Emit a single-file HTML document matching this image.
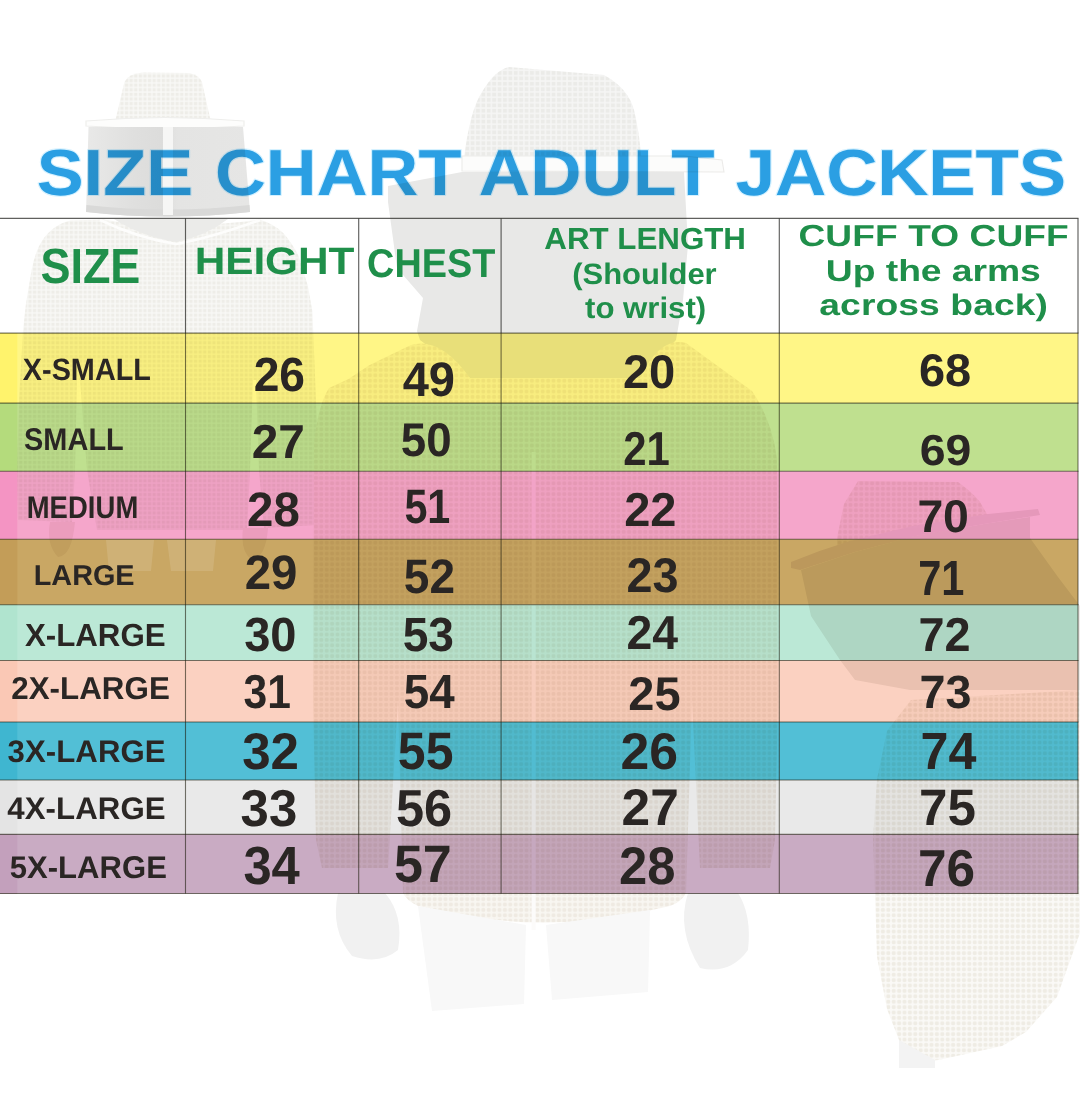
<!DOCTYPE html>
<html lang="en"><head><meta charset="utf-8"><title>Size Chart Adult Jackets</title>
<style>
html,body{margin:0;padding:0;background:#fff;}
body{width:1080px;height:1110px;overflow:hidden;font-family:"Liberation Sans", sans-serif;}
svg{display:block;}
text{font-family:"Liberation Sans", sans-serif;font-weight:700;white-space:pre;text-rendering:geometricPrecision;}
.t{fill:#2b9fe3;}
.h{fill:#1f8f4a;}
.d{fill:#2a2624;}
</style></head><body>
<svg width="1080" height="1110" viewBox="0 0 1080 1110">
<defs>
<linearGradient id="tg" x1="0" y1="0" x2="1" y2="0"><stop offset="0" stop-color="#1f8ed0"/><stop offset="1" stop-color="#2c9fe1"/></linearGradient>
</defs>
<rect width="1080" height="1110" fill="#fff"/>
<rect x="0" y="333.1" width="1078.0" height="70.00" fill="#fff686"/>
<rect x="0" y="403.1" width="1078.0" height="68.20" fill="#bfe08f"/>
<rect x="0" y="471.3" width="1078.0" height="67.90" fill="#f5a6cb"/>
<rect x="0" y="539.2" width="1078.0" height="65.60" fill="#c9a764"/>
<rect x="0" y="604.8" width="1078.0" height="55.70" fill="#bbe8d6"/>
<rect x="0" y="660.5" width="1078.0" height="61.50" fill="#fbd1c1"/>
<rect x="0" y="722.0" width="1078.0" height="58.00" fill="#52bfd6"/>
<rect x="0" y="780.0" width="1078.0" height="54.40" fill="#e9e9e9"/>
<rect x="0" y="834.4" width="1078.0" height="59.10" fill="#c9abc3"/>
<rect x="0" y="333.1" width="17.3" height="70.00" fill="#fff36c"/>
<rect x="0" y="403.1" width="17.3" height="68.20" fill="#b4db7c"/>
<rect x="0" y="471.3" width="17.3" height="67.90" fill="#f494c3"/>
<rect x="0" y="539.2" width="17.3" height="65.60" fill="#c39d58"/>
<rect x="0" y="604.8" width="17.3" height="55.70" fill="#b0e4cf"/>
<rect x="0" y="660.5" width="17.3" height="61.50" fill="#fac8b5"/>
<rect x="0" y="722.0" width="17.3" height="58.00" fill="#3fb6d0"/>
<rect x="0" y="780.0" width="17.3" height="54.40" fill="#e4e4e4"/>
<rect x="0" y="834.4" width="17.3" height="59.10" fill="#c3a0bc"/>
<g stroke="#d4f1ff" stroke-width="22" stroke-linejoin="round" paint-order="stroke"><text class="t" transform="translate(36.66 195.00) scale(0.10753 0.1)" font-size="654.6">SIZE</text>
<text class="t" transform="translate(214.90 195.00) scale(0.10768 0.1)" font-size="654.6">CHART</text>
<text class="t" transform="translate(478.76 195.00) scale(0.10873 0.1)" font-size="654.6">ADULT</text>
<text class="t" transform="translate(735.75 195.00) scale(0.10806 0.1)" font-size="654.6">JACKETS</text></g>
<defs>
<pattern id="mesh" width="4.6" height="4.6" patternUnits="userSpaceOnUse"><rect width="4.6" height="4.6" fill="#f9f9f7"/><rect x="0.7" y="0.7" width="3.3" height="3.3" fill="#eeede8"/></pattern>
<pattern id="mesh2" width="5.4" height="5.4" patternUnits="userSpaceOnUse"><rect width="5.4" height="5.4" fill="#f8f6f1"/><circle cx="2.7" cy="2.7" r="2.1" fill="#efeae2"/></pattern>
<pattern id="mesh3" width="5.4" height="5.4" patternUnits="userSpaceOnUse"><rect width="5.4" height="5.4" fill="#f6f6f5"/><rect x="0.8" y="0.8" width="3.9" height="3.9" fill="#ebebe8"/></pattern>
<pattern id="mesh4" width="5.4" height="5.4" patternUnits="userSpaceOnUse"><rect width="5.4" height="5.4" fill="#faf9f6"/><circle cx="2.7" cy="2.7" r="2.1" fill="#efece4"/></pattern>
<filter id="soft" x="-5%" y="-5%" width="110%" height="110%"><feGaussianBlur stdDeviation="0.7"/></filter>
<clipPath id="photo"><rect x="17" y="40" width="1063" height="1070"/></clipPath>
<linearGradient id="veilg" x1="0" y1="0" x2="1" y2="0"><stop offset="0" stop-color="#e9e9e8"/><stop offset="0.3" stop-color="#dfdfde"/><stop offset="0.46" stop-color="#dcdcdb"/><stop offset="0.56" stop-color="#e4e4e3"/><stop offset="1" stop-color="#e6e6e5"/></linearGradient>
</defs>

<g clip-path="url(#photo)" style="mix-blend-mode:multiply">
<g filter="url(#soft)">
<!-- ===== LEFT FIGURE ===== -->
<g id="figL">
<path d="M115.5 120 L124.4 82 Q128 74 143 72.6 L189 73 Q199 75 202 82 L210.5 120 Z" fill="url(#mesh)"/>
<path d="M86 121 Q165 114 244 121 L244 126 Q165 131 86 126 Z" fill="#fdfdfc" stroke="#eeeeec" stroke-width="1.2"/>
<path d="M88.5 127 L243 127 L250 212 Q168 221 86 212 Z" fill="url(#veilg)"/>
<path d="M86.5 205 Q168 214 249.5 205 L250 212 Q168 221 86 212 Z" fill="#d9d9d8"/>
<rect x="163" y="127" width="10" height="88" fill="#f6f6f5"/>
<path d="M103.7 219.6 Q168 232 259.6 219.6 Q274 224 283.7 233.5 Q292 243 298.5 255.7 L307.8 285.4 L312.4 311.3 L316 400 L318.5 470 L317 525 L264 528 L259 470 L256 380 L253 380 L250 470 L247 530 L97 530 L87 470 L80 380 L77 380 L75 470 L72 522 L18 520 L17 470 L19 400 L23.1 329.8 L25.9 303.9 L31.5 270.6 Q34 257 38.9 246.5 Q44 236 51.9 229.8 Q60 223 70.4 220.6 Z" fill="url(#mesh)"/>
<path d="M114 219 Q140 236 176 242 Q206 236 228 219 Z" fill="#ebebe9"/>
<path d="M100 220 Q138 238 176 244 Q210 238 260 220" fill="none" stroke="#fdfdfc" stroke-width="2.5"/>
<path d="M50 522 Q46 545 58 557 Q72 556 75 522 Z" fill="#f5f1ee"/>
<path d="M243 528 Q240 552 252 560 Q266 557 268 528 Z" fill="#f5f1ee"/>
</g>
<!-- ===== CENTER FIGURE ===== -->
<g id="figC">
<path d="M464 158 Q470 110 482 92 Q495 70 509 67 L604 75 Q628 88 634 110 Q640 135 641 158 Z" fill="url(#mesh3)"/>
<path d="M462 156 L684 156 L722 160 L724 172 L462 171 Z" fill="#fcfcfb" stroke="#ecebe9" stroke-width="1.1"/>
<path d="M388 186 L462 172 L684 172 L688 245 L683 300 L676 340 L640 378 L470 378 L420 340 L417 331 L423 298 L397 268 L388 202 Z" fill="#e8e8e7"/>
<path d="M411 345 Q440 336 470 378 L640 378 Q660 336 686 343 L752 391 Q772 420 777 459 L778 700 L775 840 L770 868 L700 868 L692 700 L686 893 Q680 905 661 908 Q540 938 418 906 Q406 900 403 893 L398 700 L388 868 L322 868 L316 840 L313 700 L314 444 Q318 405 329 388 L348.5 379 L368.8 365.5 L385 357.4 Z" fill="url(#mesh2)"/>
<rect x="531.6" y="452" width="4" height="478" fill="#fcfbfa"/>
<path d="M338 893 Q330 930 352 956 Q380 965 398 950 Q404 915 385 893 Z" fill="#f1f1f1"/>
<path d="M688 893 Q676 930 700 968 Q730 975 748 950 Q752 915 738 893 Z" fill="#f1f1f1"/>
<path d="M418 906 L526 925 L524 1004 L432 1011 Z" fill="#f8f8f8"/>
<path d="M546 925 L650 910 L648 992 L552 1000 Z" fill="#f8f8f8"/>
</g>
<!-- ===== RIGHT FIGURE ===== -->
<g id="figR">
<path d="M858 481 L958 482 Q972 492 980 502 L988 516 L988 522 L837 554 L837 538 L844 504 Z" fill="url(#mesh2)"/>
<path d="M791 562 Q820 550 850 541 L913 526 L988 514 L1038 509 L1040 515 L990 523 L915 536 L855 552 L800 570 L791 568 Z" fill="#efe9ea"/>
<path d="M801 570 L855 552 L915 536 L990 523 L1030 517 L1030 538 L1058 577 L1080 606 L1080 690 L910 690 L855 680 L840 660 L811 616 Z" fill="#eeece9"/>
<path d="M911 700 L1080 690 L1080 933 L1057 997 L1026 1032 L1002 1046 L938.5 1060 L899 1064 L899 1040 L887 1009 L877 957 L875 894 L873 838 L877 779 L887 731 Z" fill="url(#mesh4)"/>
<path d="M899 1040 L935 1060 L935 1068 L899 1068 Z" fill="#f3f3f3"/>
</g>
</g>
</g>

<path d="M106 540 L154 540 L151 571 L109 571 Z M167 540 L216 540 L213 571 L171 571 Z" fill="#fff" fill-opacity="0.12"/>

<g stroke="#222220" stroke-opacity="0.72" stroke-width="1.15"><line x1="0" y1="218.4" x2="1078.5" y2="218.4"/>
<line x1="185.5" y1="218.4" x2="185.5" y2="333.1"/>
<line x1="358.7" y1="218.4" x2="358.7" y2="333.1"/>
<line x1="501.1" y1="218.4" x2="501.1" y2="333.1"/>
<line x1="779.3" y1="218.4" x2="779.3" y2="333.1"/>
<line x1="1078.0" y1="218.4" x2="1078.0" y2="333.1"/></g>
<g stroke="#1c1a0c" stroke-opacity="0.6" stroke-width="1.1"><line x1="185.5" y1="333.1" x2="185.5" y2="893.5"/>
<line x1="358.7" y1="333.1" x2="358.7" y2="893.5"/>
<line x1="501.1" y1="333.1" x2="501.1" y2="893.5"/>
<line x1="779.3" y1="333.1" x2="779.3" y2="893.5"/>
<line x1="1078.0" y1="333.1" x2="1078.0" y2="893.5"/>
<line x1="0" y1="333.1" x2="1078.5" y2="333.1"/>
<line x1="0" y1="403.1" x2="1078.5" y2="403.1"/>
<line x1="0" y1="471.3" x2="1078.5" y2="471.3"/>
<line x1="0" y1="539.2" x2="1078.5" y2="539.2"/>
<line x1="0" y1="604.8" x2="1078.5" y2="604.8"/>
<line x1="0" y1="660.5" x2="1078.5" y2="660.5"/>
<line x1="0" y1="722.0" x2="1078.5" y2="722.0"/>
<line x1="0" y1="780.0" x2="1078.5" y2="780.0"/>
<line x1="0" y1="834.4" x2="1078.5" y2="834.4"/>
<line x1="0" y1="893.5" x2="1078.5" y2="893.5"/></g>
<text class="h" transform="translate(40.57 282.60) scale(0.09042 0.1)" font-size="495.4">SIZE</text>
<text class="h" transform="translate(194.78 274.42) scale(0.10989 0.1)" font-size="383.9">HEIGHT</text>
<text class="h" transform="translate(367.04 276.80) scale(0.09384 0.1)" font-size="403.6">CHEST</text>
<text class="h" transform="translate(544.29 249.40) scale(0.10243 0.1)" font-size="305.5">ART LENGTH</text>
<text class="h" transform="translate(572.25 284.30) scale(0.10428 0.1)" font-size="296.7">(Shoulder</text>
<text class="h" transform="translate(585.02 318.40) scale(0.10445 0.1)" font-size="298.2">to wrist)</text>
<text class="h" transform="translate(798.47 246.30) scale(0.12254 0.1)" font-size="304.0">CUFF TO CUFF</text>
<text class="h" transform="translate(825.87 281.25) scale(0.12257 0.1)" font-size="303.3">Up the arms</text>
<text class="h" transform="translate(819.30 315.30) scale(0.12542 0.1)" font-size="298.2">across back)</text>
<text class="d" transform="translate(22.82 379.69) scale(0.09284 0.1)" font-size="310.5">X-SMALL</text>
<text class="d" transform="translate(24.04 449.99) scale(0.09205 0.1)" font-size="314.7">SMALL</text>
<text class="d" transform="translate(26.66 518.18) scale(0.08731 0.1)" font-size="315.4">MEDIUM</text>
<text class="d" transform="translate(33.77 585.11) scale(0.09952 0.1)" font-size="289.3">LARGE</text>
<text class="d" transform="translate(24.89 645.68) scale(0.09764 0.1)" font-size="320.3">X-LARGE</text>
<text class="d" transform="translate(11.21 699.18) scale(0.09881 0.1)" font-size="317.5">2X-LARGE</text>
<text class="d" transform="translate(7.55 761.85) scale(0.09998 0.1)" font-size="312.7">3X-LARGE</text>
<text class="d" transform="translate(7.32 819.29) scale(0.09994 0.1)" font-size="313.3">4X-LARGE</text>
<text class="d" transform="translate(9.71 877.69) scale(0.09881 0.1)" font-size="314.7">5X-LARGE</text>
<text class="d" transform="translate(253.70 390.62) scale(0.09550 0.1)" font-size="482.6">26</text>
<text class="d" transform="translate(251.75 458.30) scale(0.09924 0.1)" font-size="479.6">27</text>
<text class="d" transform="translate(247.05 525.71) scale(0.09780 0.1)" font-size="485.4">28</text>
<text class="d" transform="translate(244.76 588.91) scale(0.09740 0.1)" font-size="485.5">29</text>
<text class="d" transform="translate(244.17 650.56) scale(0.09750 0.1)" font-size="481.8">30</text>
<text class="d" transform="translate(243.58 708.36) scale(0.08898 0.1)" font-size="479.0">31</text>
<text class="d" transform="translate(242.18 768.52) scale(0.09825 0.1)" font-size="518.4">32</text>
<text class="d" transform="translate(240.58 826.11) scale(0.09774 0.1)" font-size="521.2">33</text>
<text class="d" transform="translate(243.39 883.69) scale(0.09336 0.1)" font-size="541.0">34</text>
<text class="d" transform="translate(402.69 396.21) scale(0.09630 0.1)" font-size="486.9">49</text>
<text class="d" transform="translate(400.74 456.13) scale(0.09686 0.1)" font-size="472.8">50</text>
<text class="d" transform="translate(404.49 523.31) scale(0.08462 0.1)" font-size="486.1">51</text>
<text class="d" transform="translate(403.84 592.91) scale(0.09462 0.1)" font-size="485.5">52</text>
<text class="d" transform="translate(402.64 650.56) scale(0.09540 0.1)" font-size="481.8">53</text>
<text class="d" transform="translate(403.84 707.72) scale(0.09470 0.1)" font-size="483.2">54</text>
<text class="d" transform="translate(397.81 768.57) scale(0.09489 0.1)" font-size="527.6">55</text>
<text class="d" transform="translate(396.00 826.18) scale(0.09665 0.1)" font-size="522.1">56</text>
<text class="d" transform="translate(394.05 882.17) scale(0.09819 0.1)" font-size="527.6">57</text>
<text class="d" transform="translate(622.97 388.23) scale(0.09937 0.1)" font-size="472.8">20</text>
<text class="d" transform="translate(623.15 464.60) scale(0.08791 0.1)" font-size="476.7">21</text>
<text class="d" transform="translate(624.17 525.50) scale(0.09846 0.1)" font-size="476.7">22</text>
<text class="d" transform="translate(626.48 591.95) scale(0.09566 0.1)" font-size="488.9">23</text>
<text class="d" transform="translate(626.49 648.70) scale(0.09664 0.1)" font-size="479.6">24</text>
<text class="d" transform="translate(628.37 710.02) scale(0.09854 0.1)" font-size="475.7">25</text>
<text class="d" transform="translate(620.40 768.58) scale(0.09966 0.1)" font-size="519.3">26</text>
<text class="d" transform="translate(621.61 825.30) scale(0.09996 0.1)" font-size="516.8">27</text>
<text class="d" transform="translate(619.04 884.07) scale(0.09578 0.1)" font-size="530.6">28</text>
<text class="d" transform="translate(918.88 385.64) scale(0.10226 0.1)" font-size="458.6">68</text>
<text class="d" transform="translate(919.80 465.06) scale(0.10622 0.1)" font-size="436.1">69</text>
<text class="d" transform="translate(917.41 531.54) scale(0.10010 0.1)" font-size="461.5">70</text>
<text class="d" transform="translate(918.32 595.30) scale(0.08367 0.1)" font-size="494.6">71</text>
<text class="d" transform="translate(918.59 651.10) scale(0.09724 0.1)" font-size="479.6">72</text>
<text class="d" transform="translate(919.49 707.67) scale(0.09965 0.1)" font-size="469.2">73</text>
<text class="d" transform="translate(920.54 769.10) scale(0.09557 0.1)" font-size="525.1">74</text>
<text class="d" transform="translate(918.90 825.49) scale(0.09990 0.1)" font-size="513.3">75</text>
<text class="d" transform="translate(917.99 885.58) scale(0.09870 0.1)" font-size="520.7">76</text>
</svg>
</body></html>
